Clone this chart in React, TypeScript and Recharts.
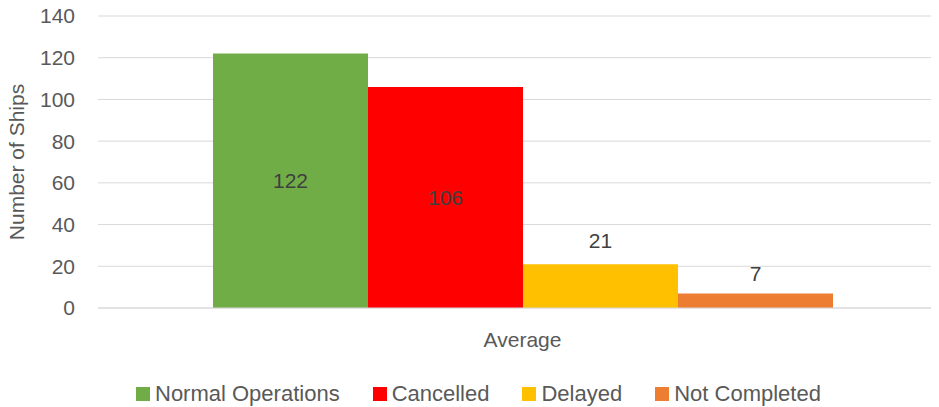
import React from 'react';
import { BarChart, Bar, XAxis, YAxis, CartesianGrid, Legend, LabelList } from 'recharts';

const categories = ['Average'];
const normalOps = [122];
const cancelled = [106];
const delayed = [21];
const notCompleted = [7];
const yTicks = [0, 20, 40, 60, 80, 100, 120, 140];

const series = [
  { key: 'normal', name: 'Normal Operations', color: '#70ad47', values: normalOps, labelPos: 'center', labelOffset: 0 },
  { key: 'cancelled', name: 'Cancelled', color: '#ff0000', values: cancelled, labelPos: 'center', labelOffset: 0 },
  { key: 'delayed', name: 'Delayed', color: '#ffc000', values: delayed, labelPos: 'top', labelOffset: 16 },
  { key: 'notCompleted', name: 'Not Completed', color: '#ed7d31', values: notCompleted, labelPos: 'top', labelOffset: 12 },
];

const data = categories.map((c, i) => {
  const row: any = { category: c };
  series.forEach((s) => {
    row[s.key] = s.values[i];
  });
  return row;
});

const FONT = '"Liberation Sans", Arial, sans-serif';
const TEXT = '#595959';

const renderLegend = () => (
  <div style={{ display: 'flex', alignItems: 'center', height: 24, lineHeight: '24px', paddingLeft: 136, fontFamily: FONT, fontSize: 22, color: TEXT }}>
    {series.map((s) => (
      <div key={s.key} style={{ display: 'flex', alignItems: 'center', marginRight: 33 }}>
        <span style={{ display: 'inline-block', width: 14, height: 14, background: s.color, marginRight: 5 }} />
        <span>{s.name}</span>
      </div>
    ))}
  </div>
);

const renderYLabel = (props: any) => {
  const vb = props.viewBox || { x: 0, y: 16, height: 292 };
  const x = vb.x + 24;
  const y = vb.y + vb.height / 2;
  return (
    <text x={x} y={y} transform={`rotate(-90, ${x}, ${y})`} textAnchor="middle" fill={TEXT} fontSize={21} fontFamily={FONT}>
      Number of Ships
    </text>
  );
};

export default function App() {
  return (
    <div style={{ position: 'relative', margin: '-8px -8px 0 -8px', width: 939, height: 407, overflow: 'hidden', background: '#fff' }}>
      <BarChart width={947} height={407} data={data} margin={{ top: 16, right: 0, left: 0, bottom: 0 }} barGap={0}>
        <CartesianGrid vertical={false} stroke="#d9d9d9" />
        <XAxis
          dataKey="category"
          height={75}
          tickLine={false}
          tickSize={0}
          tickMargin={24}
          axisLine={{ stroke: '#d9d9d9' }}
          tick={{ fill: TEXT, fontSize: 21, fontFamily: FONT }}
        />
        <YAxis
          width={98}
          domain={[0, 140]}
          ticks={yTicks}
          interval={0}
          tickLine={false}
          axisLine={false}
          tickSize={0}
          tickMargin={23}
          tick={{ fill: TEXT, fontSize: 21, fontFamily: FONT }}
          label={{ content: renderYLabel }}
        />
        <Legend content={renderLegend} wrapperStyle={{ left: 0, top: 382, width: 939, height: 24 }} />
        {series.map((s) => (
          <Bar key={s.key} dataKey={s.key} name={s.name} fill={s.color} barSize={155} isAnimationActive={false}>
            <LabelList
              dataKey={s.key}
              position={s.labelPos as any}
              offset={s.labelOffset}
              fill="#404040"
              fontSize={21}
              fontFamily={FONT}
            />
          </Bar>
        ))}
      </BarChart>
    </div>
  );
}
